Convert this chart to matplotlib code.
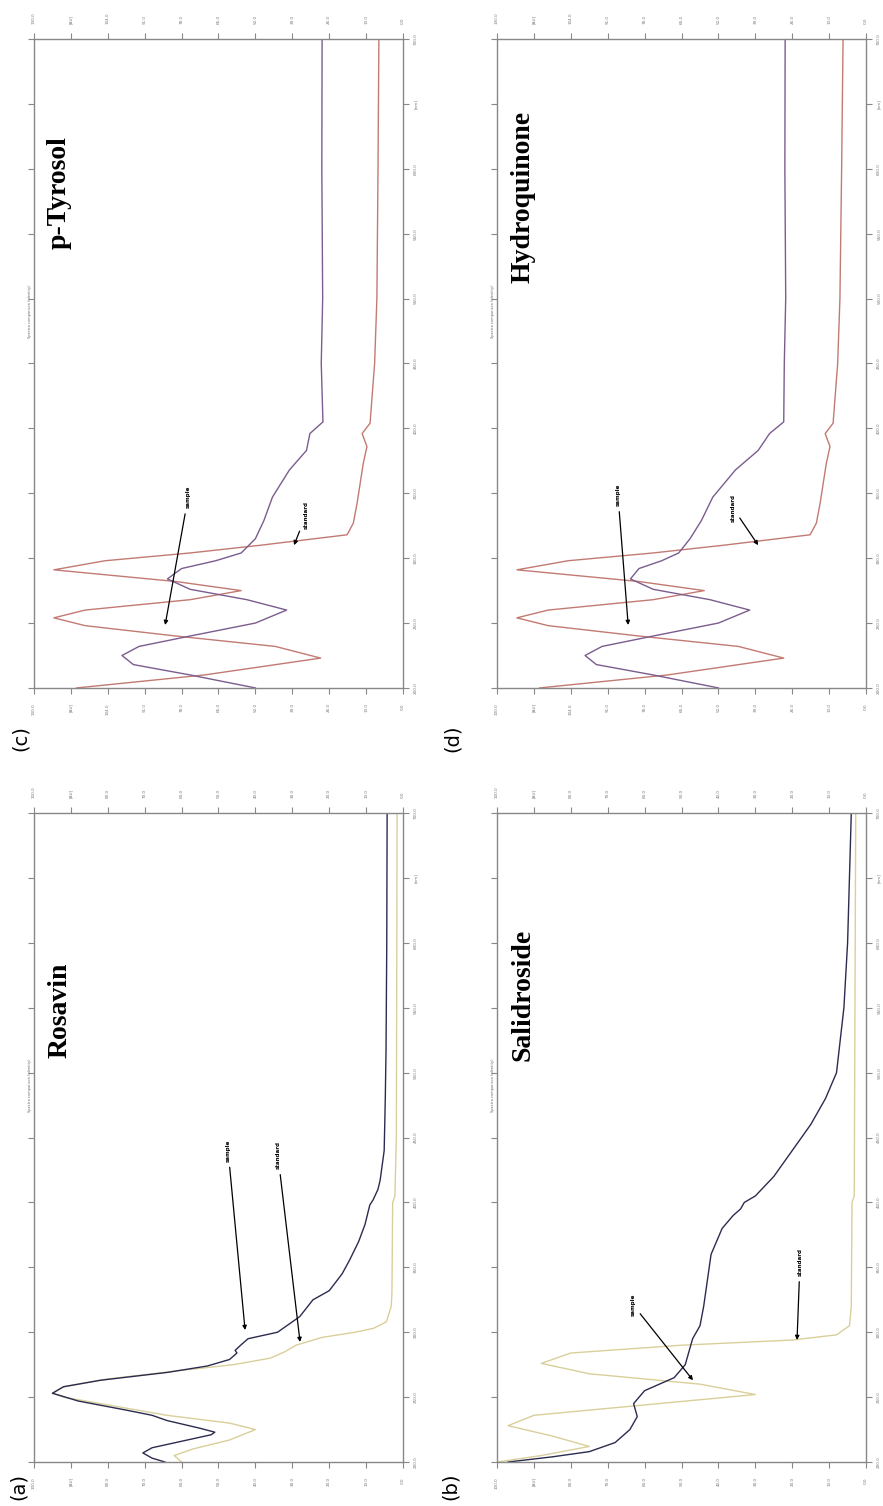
import matplotlib.pyplot as plt

# wavelength axis (nm) and absorbance axis (AU)
wl_ticks = [200, 250, 300, 350, 400, 450, 500, 550, 600, 650, 700]
wl_labels = ['200.0', '250.0', '300.0', '350.0', '400.0', '450.0',
             '500.0', '550.0', '600.0', '[nm]', '700.0']
au_ticks_ab = [100, 90, 80, 70, 60, 50, 40, 30, 20, 10, 0]
au_labels_ab = ['100.0', '[AU]', '80.0', '70.0', '60.0', '50.0',
                '40.0', '30.0', '20.0', '10.0', '0.0']
au_ticks_cd = [130, 117, 104, 91, 78, 65, 52, 39, 26, 13, 0]
au_labels_cd = ['130.0', '[AU]', '104.0', '91.0', '78.0', '65.0',
                '52.0', '39.0', '26.0', '13.0', '0.0']

# (a) Rosavin
ros_wl_smp = [200, 203, 207, 211, 216, 221, 223, 226, 232, 236, 240, 247, 253,
              258, 263, 269, 274, 279, 284, 286, 290, 295, 300, 312, 325, 332,
              345, 356, 370, 383, 398, 402, 410, 417, 440, 480, 517, 600, 700]
ros_au_smp = [64.5, 68, 70.5, 68, 60, 52, 51, 55, 64, 68, 75, 88, 95,
              92, 82, 64, 53, 47, 45, 45.5, 44, 42, 34, 28, 24.4, 20,
              16.5, 14.4, 12, 10.3, 9, 8.1, 6.8, 6.2, 5.1, 4.8, 4.6, 4.4, 4.3]
ros_wl_std = [200, 205, 210, 217, 225, 230, 236, 244, 250, 253, 258, 264, 270,
              275, 280, 285, 290, 296, 300, 303, 308, 320, 330, 400, 405, 450, 700]
ros_au_std = [60, 62, 57, 47, 40, 47, 64, 80, 92, 95, 92, 80, 62,
              46, 36, 32, 29, 22, 13, 8, 4.5, 3.2, 3, 2.8, 2.2, 1.8, 1.6]

# (b) Salidroside
sal_wl_smp = [200, 204, 208, 215, 225, 235, 245, 255, 265, 275, 285, 295, 305,
              320, 340, 360, 380, 390, 395, 400, 405, 420, 440, 460, 480, 500,
              550, 600, 700]
sal_au_smp = [97, 85, 75, 68, 64, 62, 63, 60, 52, 49, 48, 47, 45,
              44, 43, 42, 39, 36, 34, 33, 30, 25, 20, 15, 11, 8,
              6, 5, 4]
sal_wl_std = [200, 205, 212, 220, 228, 236, 244, 252, 260, 268, 276, 284, 290,
              294, 298, 305, 320, 400, 405, 700]
sal_au_std = [100, 88, 75, 85, 97, 90, 60, 30, 45, 75, 88, 80, 50,
              20, 8, 4.5, 4, 3.8, 3.2, 2.8]

# (c) p-Tyrosol
tyr_wl_smp = [200, 210, 218, 225, 232, 240, 250, 260, 268, 276, 284, 292, 298,
              304, 315, 329, 347, 368, 383, 396, 405, 450, 500, 600, 700]
tyr_au_smp = [52, 75, 95, 99, 93, 75, 52, 41, 55, 75, 83, 78, 66,
              57, 52, 49, 46, 40, 34, 32.8, 28.2, 28.8, 28.3, 28.6, 28.5]
tyr_wl_std = [200, 210, 223, 232, 240, 248, 254, 260, 268, 275, 282, 291, 298,
              304, 310, 318, 327, 342, 373, 386, 396, 404, 450, 500, 600, 700]
tyr_au_std = [115, 70, 29, 45, 80, 112, 123, 112, 75, 57, 80, 123, 105,
              75, 50, 19.7, 17.5, 16.2, 14, 12.7, 14.4, 11.6, 10, 9.2, 8.8, 8.5]

# (d) Hydroquinone
hyd_wl_smp = [200, 210, 218, 225, 232, 240, 250, 260, 268, 276, 284, 292, 298,
              304, 315, 329, 347, 368, 383, 396, 405, 450, 500, 600, 700]
hyd_au_smp = [52, 75, 95, 99, 93, 75, 52, 41, 55, 75, 83, 80, 72,
              66, 62, 58, 54, 46, 38, 34, 29, 28.8, 28.3, 28.6, 28.5]
hyd_wl_std = [200, 210, 223, 232, 240, 248, 254, 260, 268, 275, 282, 291, 298,
              304, 310, 318, 327, 342, 373, 386, 396, 404, 450, 500, 600, 700]
hyd_au_std = [115, 70, 29, 45, 80, 112, 123, 112, 75, 57, 80, 123, 105,
              75, 50, 19.7, 17.5, 16.2, 14, 12.7, 14.4, 11.6, 10, 9.2, 8.6, 8.1]

C_DARK = '#2b2b4f'
C_KHAKI = '#d9cf9a'
C_PURPLE = '#7b5c8e'
C_ROSE = '#c27a72'

fig = plt.figure(figsize=(8.83, 15.06), dpi=100)

W, H = 0.4179, 0.4309
panels = [
    dict(rect=[0.0385, 0.0292, W, H], title='Rosavin', letter='(a)',
         smp=(ros_wl_smp, ros_au_smp), std=(ros_wl_std, ros_au_std),
         c_smp=C_DARK, c_std=C_KHAKI, ticks=au_ticks_ab, labels=au_labels_ab,
         tpos=(93, 548), letter_px=(18, 1486),
         s_txt=(47.4, 440), s_tip=(42.8, 301.7), d_txt=(33.9, 436.5), d_tip=(27.9, 292.5)),
    dict(rect=[0.5629, 0.0292, W, H], title='Salidroside', letter='(b)',
         smp=(sal_wl_smp, sal_au_smp), std=(sal_wl_std, sal_au_std),
         c_smp=C_DARK, c_std=C_KHAKI, ticks=au_ticks_ab, labels=au_labels_ab,
         tpos=(93, 560), letter_px=(450, 1486),
         s_txt=(63.1, 321), s_tip=(46.9, 263), d_txt=(17.9, 354), d_tip=(18.7, 294)),
    dict(rect=[0.0385, 0.5432, W, H], title='p-Tyrosol', letter='(c)',
         smp=(tyr_wl_smp, tyr_au_smp), std=(tyr_wl_std, tyr_au_std),
         c_smp=C_PURPLE, c_std=C_ROSE, ticks=au_ticks_cd, labels=au_labels_cd,
         tpos=(121, 582), letter_px=(20, 738),
         s_txt=(75.7, 347), s_tip=(83.8, 248.5), d_txt=(34.2, 333), d_tip=(38.4, 310)),
    dict(rect=[0.5629, 0.5432, W, H], title='Hydroquinone', letter='(d)',
         smp=(hyd_wl_smp, hyd_au_smp), std=(hyd_wl_std, hyd_au_std),
         c_smp=C_PURPLE, c_std=C_ROSE, ticks=au_ticks_cd, labels=au_labels_cd,
         tpos=(121, 578), letter_px=(452, 738),
         s_txt=(87.4, 348.7), s_tip=(83.8, 248.5), d_txt=(46.9, 338.7), d_tip=(38, 310)),
]

for p in panels:
    ax = fig.add_axes(p['rect'])
    ax.plot(p['std'][1], p['std'][0], color=p['c_std'], lw=1.0)
    ax.plot(p['smp'][1], p['smp'][0], color=p['c_smp'], lw=1.0)
    ax.set_xlim(p['ticks'][0], 0)
    ax.set_ylim(200, 700)
    ax.set_xticks(p['ticks'])
    ax.set_xticklabels(p['labels'], rotation=90)
    ax.set_yticks(wl_ticks)
    ax.set_yticklabels(wl_labels, rotation=90, va='center')
    ax.tick_params(axis='x', top=True, bottom=True, labeltop=True, labelbottom=True,
                   direction='out', length=4, width=0.8, color='#888888',
                   labelsize=3, labelcolor='#777777', pad=7)
    ax.tick_params(axis='y', left=True, right=True, labelleft=False, labelright=True,
                   direction='out', length=4, width=0.8, color='#888888',
                   labelsize=3, labelcolor='#777777', pad=4)
    for s in ax.spines.values():
        s.set_color('#888888')
        s.set_linewidth(1.0)

    ax.text(p['tpos'][0], p['tpos'][1], p['title'], rotation=90,
            ha='center', va='center', fontsize=20, fontweight='bold',
            family='Liberation Serif')
    ax.text(-0.012, (490 - 200) / 500, 'Spectra comparison (identity)',
            transform=ax.transAxes, rotation=90, ha='center', va='center',
            fontsize=2.5, color='#666666')

    arrow = dict(arrowstyle='-|>', color='black', lw=0.9, mutation_scale=6,
                 shrinkA=2, shrinkB=0)
    ax.annotate('sample', xy=p['s_tip'], xytext=p['s_txt'], rotation=90,
                ha='center', va='center', fontsize=4, fontweight='bold',
                arrowprops=arrow)
    ax.annotate('standard', xy=p['d_tip'], xytext=p['d_txt'], rotation=90,
                ha='center', va='center', fontsize=4, fontweight='bold',
                arrowprops=arrow)

    lx, ly = p['letter_px']
    fig.text(lx / 883, 1 - ly / 1506, p['letter'], rotation=90,
             ha='center', va='center', fontsize=14)

fig.savefig('out.png', dpi=100)
